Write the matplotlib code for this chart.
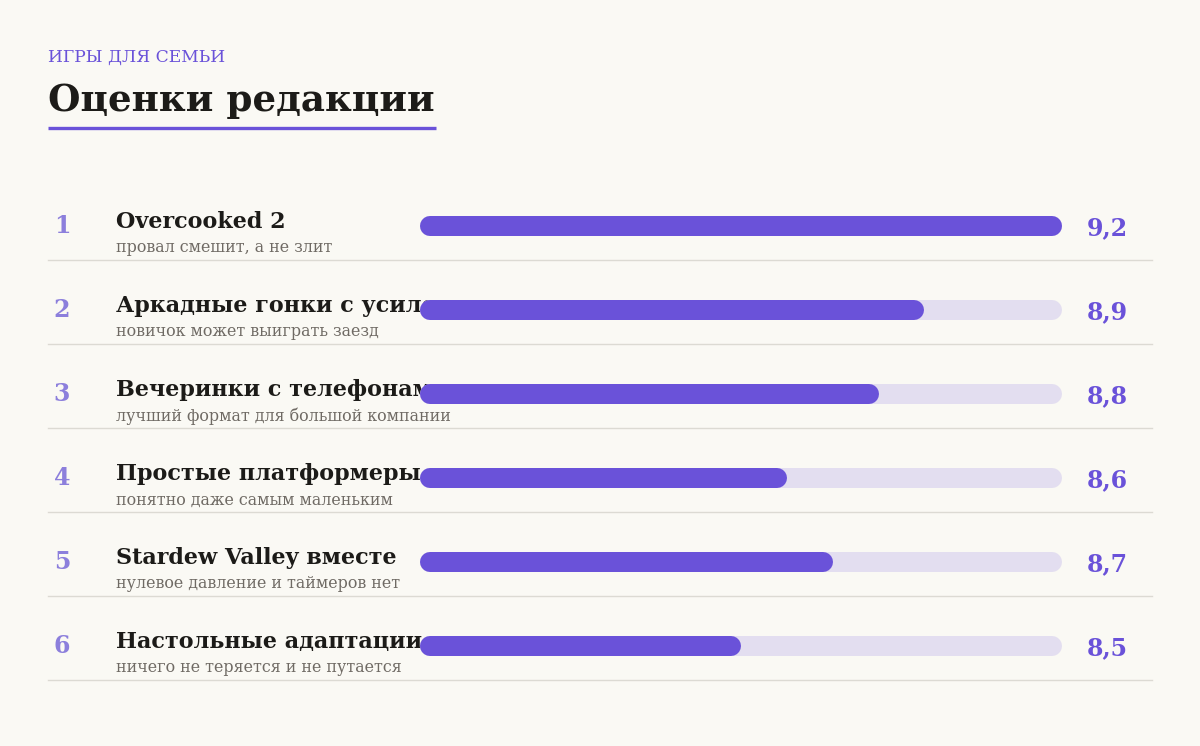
import matplotlib
matplotlib.use("Agg")
import matplotlib.pyplot as plt
from matplotlib.patches import Rectangle

ranks = ["1", "2", "3", "4", "5", "6"]
names = ["Overcooked 2", "Аркадные гонки с усилением", "Вечеринки с телефонами",
         "Простые платформеры", "Stardew Valley вместе", "Настольные адаптации"]
notes = ["провал смешит, а не злит", "новичок может выиграть заезд",
         "лучший формат для большой компании", "понятно даже самым маленьким",
         "нулевое давление и таймеров нет", "ничего не теряется и не путается"]
scores = [9.2, 8.9, 8.8, 8.6, 8.7, 8.5]
score_labels = ["9,2", "8,9", "8,8", "8,6", "8,7", "8,5"]
x_min, x_max = 7.8, 9.2

W, H = 1200, 746
bg = "#faf9f4"
purple = "#6a52d9"
track = "#e3def0"
serif = ["DejaVu Serif"]

fig = plt.figure(figsize=(W / 100, H / 100), dpi=100, facecolor=bg)

# overlay in pixel coordinates for the text layout
ax = fig.add_axes([0, 0, 1, 1])
ax.set_xlim(0, W)
ax.set_ylim(H, 0)
ax.axis("off")

ax.text(48, 57, "ИГРЫ ДЛЯ СЕМЬИ", fontsize=12.3, color=purple, family=serif,
        va="center", ha="left")
ax.text(48, 101, "Оценки редакции", fontsize=26.8, color="#1c1b18", family=serif,
        weight="bold", va="center", ha="left")
ax.plot([48, 436], [127.5, 127.5], color=purple, lw=2.4, solid_capstyle="butt")

# names are cut where the bar column starts
clip = Rectangle((0, 0), 428, H, transform=ax.transData)

row0, step = 226, 84
for i in range(len(names)):
    yc = row0 + i * step
    ax.text(62, yc, ranks[i], fontsize=17, color="#8c7fdc", family=serif,
            weight="bold", ha="center", va="center")
    t = ax.text(116, yc - 4, names[i], fontsize=16, color="#1c1b18", family=serif,
                weight="bold", ha="left", va="center", zorder=1)
    t.set_clip_path(clip)
    ax.text(116, yc + 22, notes[i], fontsize=11.4, color="#6f6a64", family=serif,
            ha="left", va="center")
    ax.text(1087, yc + 2, score_labels[i], fontsize=17, color=purple, family=serif,
            weight="bold", ha="left", va="center")
    ax.plot([48, 1152], [yc + 34, yc + 34], color="#dcdad3", lw=1)

# bar axes: 420..1062 px, scale 7.8..9.2
bx0, bx1 = 420, 1062
top = row0 - step / 2
bax = fig.add_axes([bx0 / W, 1 - (top + step * len(names)) / H,
                    (bx1 - bx0) / W, step * len(names) / H])
bax.set_xlim(x_min, x_max)
bax.set_ylim(len(names) - 0.5, -0.5)
bax.axis("off")
bax.patch.set_alpha(0)

bar_px = 20
pad = (bar_px / 2) / (bx1 - bx0) * (x_max - x_min)
lw_pt = bar_px * 72 / 100
for i, s in enumerate(scores):
    bax.plot([x_min + pad, x_max - pad], [i, i], color=track, lw=lw_pt,
             solid_capstyle="round", zorder=2)
    bax.plot([x_min + pad, s - pad], [i, i], color=purple, lw=lw_pt,
             solid_capstyle="round", zorder=3)

fig.savefig("out.png", dpi=100, facecolor=bg)
